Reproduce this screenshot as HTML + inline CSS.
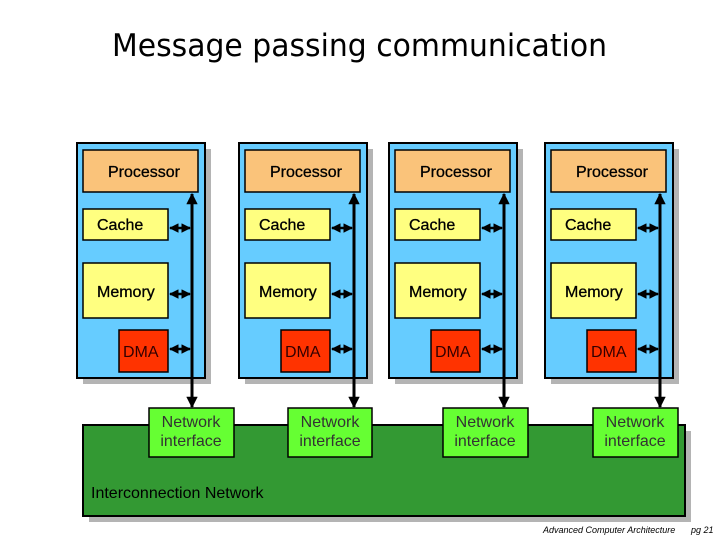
<!DOCTYPE html>
<html><head><meta charset="utf-8"><style>body{margin:0;background:#fff}svg{display:block}</style></head><body>
<svg width="720" height="540" viewBox="0 0 720 540" xmlns="http://www.w3.org/2000/svg" font-family="Liberation Sans, sans-serif">
<defs>
<marker id="a" viewBox="0 0 10 10" refX="9" refY="5" markerWidth="3.8" markerHeight="3.8" orient="auto-start-reverse"><path d="M0,0L10,5L0,10z" fill="#000"/></marker>
</defs>
<text x="112" y="56" font-size="31" fill="#000" font-family="DejaVu Sans, sans-serif" textLength="495" lengthAdjust="spacingAndGlyphs">Message passing communication</text>
<rect x="89" y="431" width="602" height="91" fill="#b4b4b4"/>
<rect x="83" y="425" width="602" height="91" fill="#339933" stroke="#000" stroke-width="2"/>
<text x="91" y="498" font-size="16" fill="#000">Interconnection Network</text>
<g id="c1">
<rect x="83" y="149" width="128" height="235" fill="#b4b4b4"/>
<rect x="77" y="143" width="128" height="235" fill="#66ccff" stroke="#000" stroke-width="2"/>
<rect x="83" y="150" width="115" height="42" fill="#fac37a" stroke="#000" stroke-width="1.5"/>
<g font-size="16" stroke="#000" stroke-width="0.3">
<text x="144" y="177" text-anchor="middle">Processor</text>
<text x="97" y="230">Cache</text>
<text x="97" y="297">Memory</text>
</g>
<rect x="83" y="209" width="85" height="31" fill="#ffff80" stroke="#000" stroke-width="1.5"/>
<text x="97" y="230" font-size="16" stroke="#000" stroke-width="0.3">Cache</text>
<rect x="83" y="263" width="85" height="55" fill="#ffff80" stroke="#000" stroke-width="1.5"/>
<text x="97" y="297" font-size="16" stroke="#000" stroke-width="0.3">Memory</text>
<rect x="119" y="330" width="49" height="42" fill="#ff3300" stroke="#000" stroke-width="1.5"/>
<text x="123" y="357" font-size="16" fill="#300">DMA</text>
<line x1="170" y1="228" x2="190" y2="228" stroke="#000" stroke-width="2.5" marker-start="url(#a)" marker-end="url(#a)"/>
<line x1="170" y1="294" x2="190" y2="294" stroke="#000" stroke-width="2.5" marker-start="url(#a)" marker-end="url(#a)"/>
<line x1="170" y1="349" x2="190" y2="349" stroke="#000" stroke-width="2.5" marker-start="url(#a)" marker-end="url(#a)"/>
<line x1="192" y1="194" x2="192" y2="407" stroke="#000" stroke-width="3" marker-start="url(#a)" marker-end="url(#a)"/>
</g>
<use href="#c1" x="162"/>
<use href="#c1" x="312"/>
<use href="#c1" x="468"/>
<g stroke="#000" stroke-width="1.5">
<rect x="149" y="408" width="85" height="49" fill="#66ff33"/>
<rect x="288" y="408" width="84" height="49" fill="#66ff33"/>
<rect x="443" y="408" width="85" height="49" fill="#66ff33"/>
<rect x="593" y="408" width="85" height="49" fill="#66ff33"/>
</g>
<g font-size="16" fill="#333" text-anchor="middle">
<text x="191" y="427">Network</text><text x="191" y="446">interface</text>
<text x="330" y="427">Network</text><text x="330" y="446">interface</text>
<text x="485" y="427">Network</text><text x="485" y="446">interface</text>
<text x="635" y="427">Network</text><text x="635" y="446">interface</text>
</g>
<text x="543" y="533" font-size="9" font-style="italic">Advanced Computer Architecture</text>
<text x="691" y="533" font-size="9" font-style="italic">pg 21</text>
</svg>
</body></html>
